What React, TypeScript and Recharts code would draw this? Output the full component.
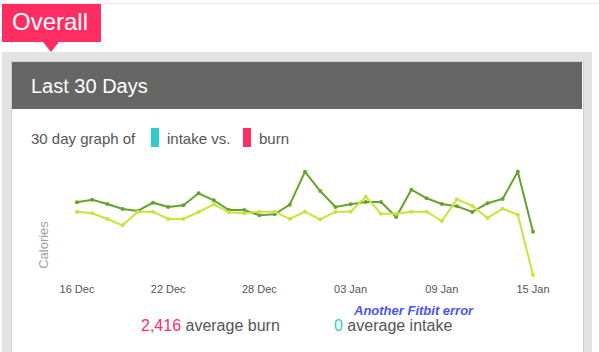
import React from 'react';
import { LineChart, Line, XAxis, YAxis } from 'recharts';

const dates = [
  '16 Dec', '17 Dec', '18 Dec', '19 Dec', '20 Dec', '21 Dec', '22 Dec', '23 Dec',
  '24 Dec', '25 Dec', '26 Dec', '27 Dec', '28 Dec', '29 Dec', '30 Dec', '31 Dec',
  '01 Jan', '02 Jan', '03 Jan', '04 Jan', '05 Jan', '06 Jan', '07 Jan', '08 Jan',
  '09 Jan', '10 Jan', '11 Jan', '12 Jan', '13 Jan', '14 Jan', '15 Jan',
];

const tickLabels = ['16 Dec', '22 Dec', '28 Dec', '03 Jan', '09 Jan', '15 Jan'];

const burn = [
  2442, 2524, 2389, 2232, 2169, 2430, 2294, 2348, 2725, 2505, 2200, 2200, 2034, 2065, 2367, 3404,
  2797, 2294, 2379, 2452, 2452, 1980, 2838, 2568, 2389, 2316, 2137, 2411, 2546, 3404, 1518,
];

const intake = [
  2147, 2096, 1917, 1719, 2147, 2147, 1917, 1917, 2137, 2379, 2128, 2096, 2147, 2147, 1917, 2147,
  1908, 2147, 2147, 2618, 2084, 2084, 2147, 2147, 1854, 2536, 2335, 1949, 2241, 2052, 157,
];

const data = dates.map((date, i) => ({ date, burn: burn[i], intake: intake[i] }));

const FONT = '"Liberation Sans", Arial, Helvetica, sans-serif';
const TEXT = '#555555';
const PINK = '#ff2d62';
const TEAL = '#2ecbcb';
const DARK_GREEN = '#66a32b';
const LIGHT_GREEN = '#c8e43c';

const abs = (left: number, top: number, extra: React.CSSProperties = {}): React.CSSProperties => ({
  position: 'absolute',
  left,
  top,
  whiteSpace: 'nowrap',
  ...extra,
});

export default function App() {
  return (
    <div style={{ position: 'absolute', left: 0, top: 0, width: 599, height: 352, overflow: 'hidden', background: '#fff', fontFamily: FONT }}>
      {/* top rule */}
      <div style={abs(0, 3, { width: 599, height: 1, background: '#e8e8e8' })} />

      {/* Overall tab */}
      <div style={abs(2, 4, { width: 99, height: 38, background: PINK })} />
      <div
        style={abs(43, 42, {
          width: 0,
          height: 0,
          borderLeft: '8px solid transparent',
          borderRight: '8px solid transparent',
          borderTop: `10px solid ${PINK}`,
        })}
      />
      <div style={abs(12, 10, { fontSize: 24, lineHeight: '24px', color: '#fff' })}>Overall</div>

      {/* outer frame */}
      <div style={abs(2, 52, { width: 590, height: 320, background: '#e2e3e2' })} />
      <div style={abs(11, 61, { width: 571, height: 320, background: '#fff', border: '1px solid #d0d0d0' })} />
      <div style={abs(12, 62, { width: 570, height: 47, background: '#666666' })} />
      <div style={abs(31, 76, { fontSize: 20, lineHeight: '20px', color: '#fff' })}>Last 30 Days</div>

      {/* subtitle */}
      <div style={abs(31, 131, { fontSize: 15, lineHeight: '15px', color: TEXT })}>30 day graph of</div>
      <div style={abs(151, 128, { width: 8, height: 19, background: TEAL })} />
      <div style={abs(167, 131, { fontSize: 15, lineHeight: '15px', color: TEXT })}>intake vs.</div>
      <div style={abs(243, 128, { width: 8, height: 19, background: PINK })} />
      <div style={abs(259, 131, { fontSize: 15, lineHeight: '15px', color: TEXT })}>burn</div>

      {/* y label */}
      <div
        style={abs(42.5, 245, {
          fontSize: 13,
          lineHeight: '13px',
          color: '#a0a0a0',
          transform: 'translate(-50%, -50%) rotate(-90deg)',
        })}
      >
        Calories
      </div>

      <div style={abs(0, 120)}>
        <LineChart width={599} height={190} data={data} margin={{ top: 20, right: 66, left: 77, bottom: 10 }}>
          <XAxis
            dataKey="date"
            ticks={tickLabels}
            interval={0}
            axisLine={false}
            tickLine={false}
            tickSize={0}
            tickMargin={5}
            height={20}
            tick={{ fontSize: 11, fill: TEXT, fontFamily: FONT }}
          />
          <YAxis hide domain={[0, 4400]} />
          <Line
            type="linear"
            dataKey="burn"
            stroke={DARK_GREEN}
            strokeWidth={2}
            dot={{ r: 2, fill: DARK_GREEN, stroke: DARK_GREEN, strokeWidth: 0 }}
            isAnimationActive={false}
          />
          <Line
            type="linear"
            dataKey="intake"
            stroke={LIGHT_GREEN}
            strokeWidth={2}
            dot={{ r: 2, fill: LIGHT_GREEN, stroke: LIGHT_GREEN, strokeWidth: 0 }}
            isAnimationActive={false}
          />
        </LineChart>
      </div>

      {/* annotation */}
      <div
        style={abs(354, 304, {
          fontSize: 13,
          lineHeight: '13px',
          color: '#4a55f0',
          fontWeight: 'bold',
          fontStyle: 'italic',
        })}
      >
        Another Fitbit error
      </div>

      {/* averages */}
      <div style={abs(141, 318, { fontSize: 16, lineHeight: '16px', color: TEXT })}>
        <span style={{ color: PINK }}>2,416</span> average burn
      </div>
      <div style={abs(334, 318, { fontSize: 16, lineHeight: '16px', color: TEXT })}>
        <span style={{ color: TEAL }}>0</span> average intake
      </div>
    </div>
  );
}
